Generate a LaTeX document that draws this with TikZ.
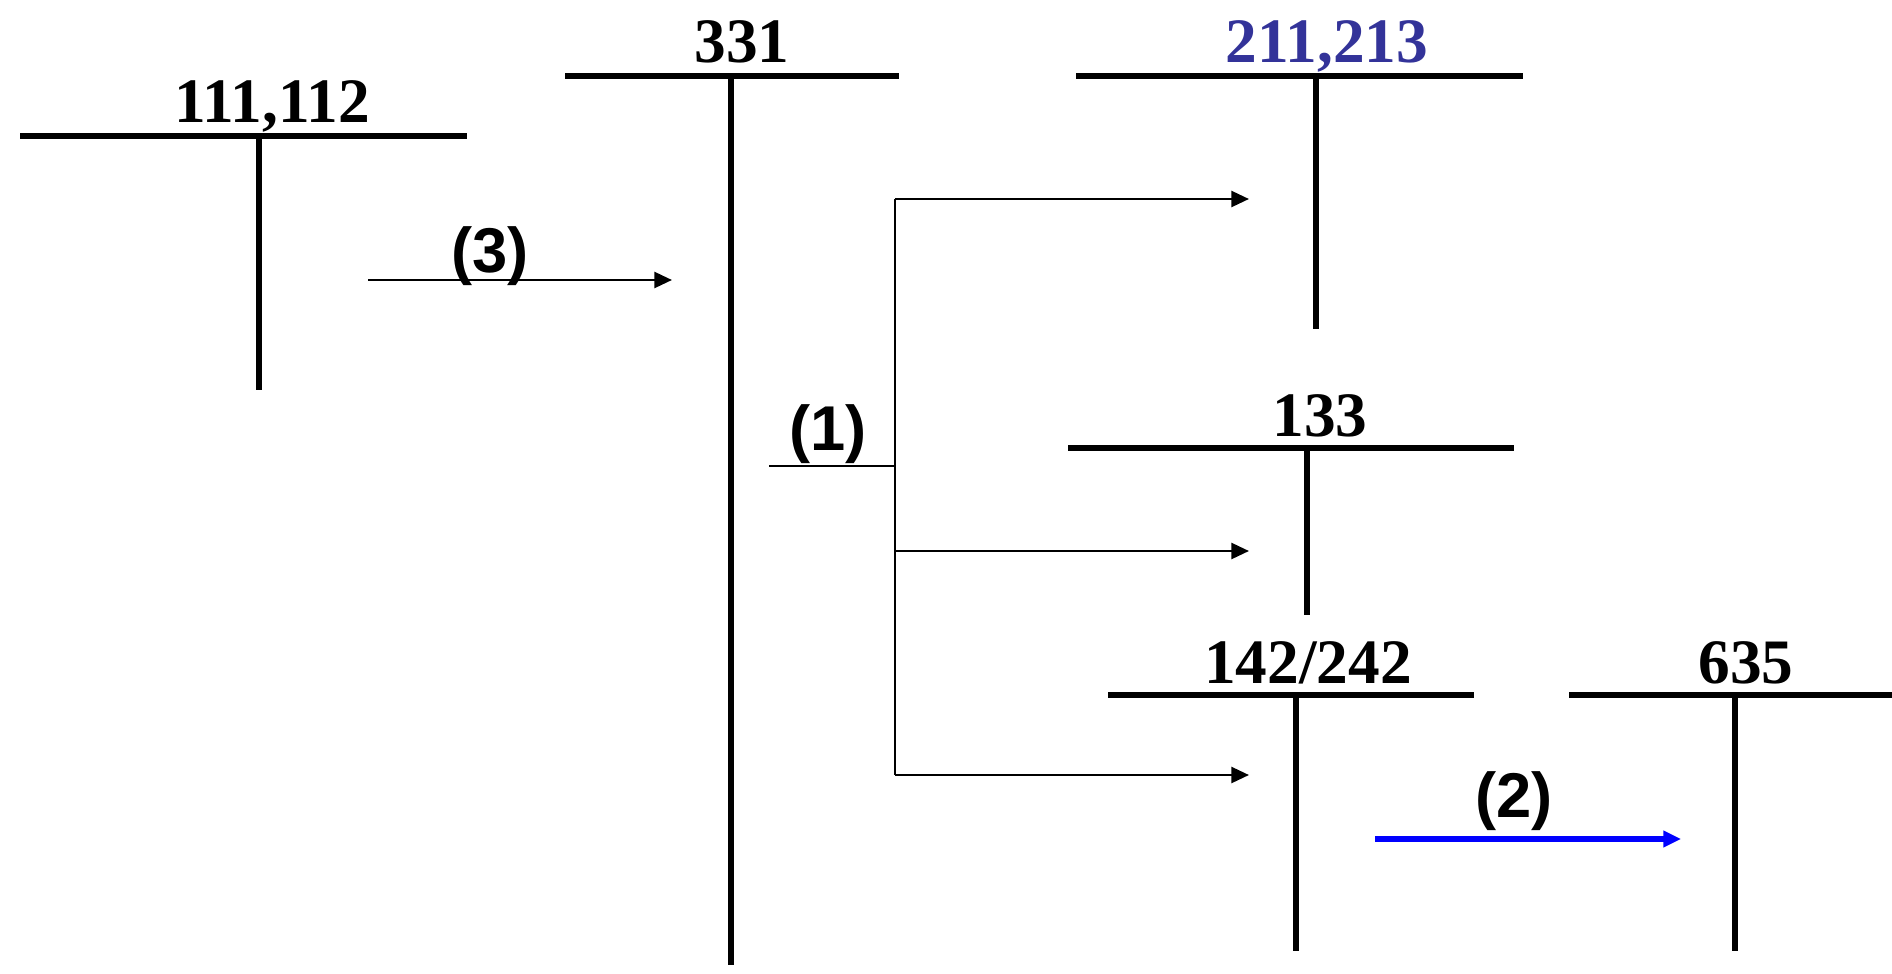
\documentclass[tikz,border=0pt]{standalone}
\usepackage{fontspec}
\setmainfont{Liberation Serif}
\setsansfont{Liberation Sans}
\usetikzlibrary{arrows.meta}

\begin{document}
\begin{tikzpicture}[x=0.01cm, y=-0.01cm,
	%Option for nice arrows
	>={Triangle[length=5pt, width=4.5pt]}, %
	inner sep=0pt, outer sep=0pt,%
	tbar/.style={line width=1.8pt},
	flow/.style={line width=0.8pt,->},
	acct/.style={anchor=base, font=\bfseries\fontsize{18}{18}\selectfont},
	entry/.style={anchor=base, font=\sffamily\bfseries\fontsize{18}{18}\selectfont},
	]
	% Colors
	\definecolor{acctblue}{RGB}{51,51,153}
	\colorlet{flowblue}{blue}
	
	% Frame
	\useasboundingbox (0,0) rectangle (1892,973);
	
	% T accounts: name/left/right/stem/top/bottom
	\foreach \n/\l/\r/\s/\t/\b in {a111/20/467/259/136/390, a331/565/899/731/76/965,
		a211/1076/1523/1316/76/329, a133/1068/1514/1307/448/615,
		a142/1108/1474/1296/695/951, a635/1569/1892/1735/695/951}{
		\coordinate (\n-l) at (\l,\t);
		\coordinate (\n-r) at (\r,\t);
		\coordinate (\n-t) at (\s,\t);
		\coordinate (\n-b) at (\s,\b);
		\draw[tbar] (\n-l) -- (\n-r);
		\draw[tbar] (\n-t) -- (\n-b);
	}
	
	% Account numbers
	\node[acct] (n111) at (272,123) {111,112};
	\node[acct] (n331) at (742,63) {331};
	\node[acct, color=acctblue] (n211) at (1327,63) {211,213};
	\node[acct] (n133) at (1320,436) {133};
	\node[acct] (n142) at (1308,683) {142/242};
	\node[acct] (n635) at (1746,683) {635};
	
	% (3) cash paid in
	\coordinate (s3) at (368,280);
	\coordinate (e3) at (672,280);
	\draw[flow] (s3) -- (e3);
	\node[entry] (l3) at (490,272) {(3)};
	
	% (1) spread to three accounts
	\coordinate (s1) at (769,466);
	\coordinate (k1) at (895,466);
	\coordinate (u1) at (895,199);
	\coordinate (d1) at (895,775);
	\draw[line width=0.8pt] (s1) -- (k1);
	\draw[line width=0.8pt] (u1) -- (d1);
	\foreach \y in {199,551,775}
	\draw[flow] (895,\y) -- (1249,\y);
	\node[entry] (l1) at (828,450) {(1)};
	
	% (2) transfer to 635
	\coordinate (s2) at (1375,839);
	\coordinate (e2) at (1681,839);
	\draw[flow, color=flowblue, line width=1.6pt] (s2) -- (e2);
	\node[entry] (l2) at (1514,817) {(2)};
\end{tikzpicture}
\end{document}
